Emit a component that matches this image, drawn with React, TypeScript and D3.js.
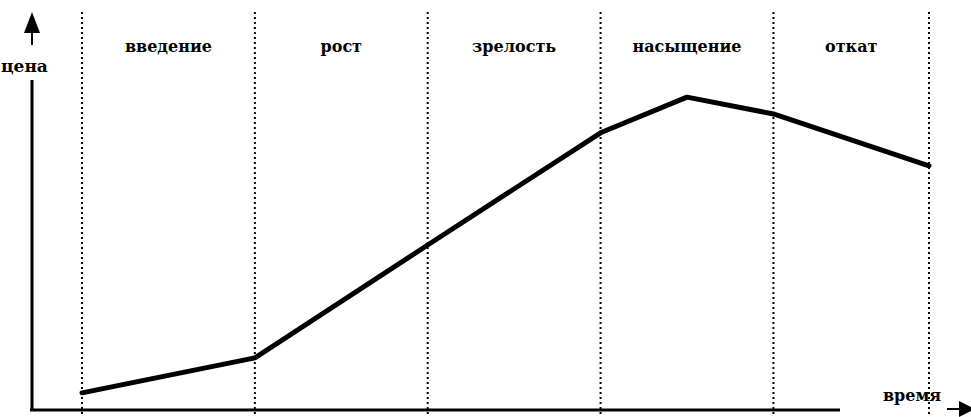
import React from "react";
import * as d3 from "d3";

const stages = ["введение", "рост", "зрелость", "насыщение", "откат"];
const boundaries = [0, 1, 2, 3, 4, 4.9];
const curveTime = [0, 1, 2, 3, 3.5, 4, 4.9];
const curveValue = [5.2, 15.8, 50, 84, 94.8, 89.7, 74];
const yLabel = "цена";
const xLabel = "время";

const W = 971;
const H = 417;

export default function App() {
  const x = d3.scaleLinear().domain([0, 4.9]).range([82, 929]);
  const y = d3.scaleLinear().domain([0, 100]).range([410, 80]);
  const pts = curveTime.map((t, i) => [x(t), y(curveValue[i])] as [number, number]);
  const line = d3.line()(pts) || "";
  const font = "'DejaVu Serif', serif";
  return (
    <svg width={W} height={H} style={{ position: "absolute", left: 0, top: 0, background: "#fff" }}>
      <rect width={W} height={H} fill="#fff" />
      {boundaries.map((b, i) => (
        <line key={i} x1={x(b)} x2={x(b)} y1={12} y2={H} stroke="#000" strokeWidth={2} strokeDasharray="2,3" />
      ))}
      {stages.map((s, i) => (
        <text key={s} x={(x(boundaries[i]) + x(boundaries[i + 1])) / 2} y={52} textAnchor="middle"
          style={{ fontFamily: font, fontWeight: 700, fontSize: 16 }}>{s}</text>
      ))}
      {/* y axis */}
      <line x1={32} x2={32} y1={80} y2={411} stroke="#000" strokeWidth={3} />
      <line x1={32} x2={32} y1={28} y2={45} stroke="#000" strokeWidth={2} />
      <path d="M32,12 L24,33 L40,33 Z" fill="#000" />
      <text x={1} y={72} style={{ fontFamily: font, fontWeight: 700, fontSize: 17 }}>{yLabel}</text>
      {/* x axis */}
      <line x1={30} x2={840} y1={410} y2={410} stroke="#000" strokeWidth={3} />
      <text x={912} y={401} textAnchor="middle" style={{ fontFamily: font, fontWeight: 700, fontSize: 16 }}>{xLabel}</text>
      <line x1={947} x2={962} y1={409} y2={409} stroke="#000" strokeWidth={2} />
      <path d="M975,409 L959,401 L959,417 Z" fill="#000" />
      <path d={line} fill="none" stroke="#000" strokeWidth={5} strokeLinejoin="round" strokeLinecap="round" />
    </svg>
  );
}
